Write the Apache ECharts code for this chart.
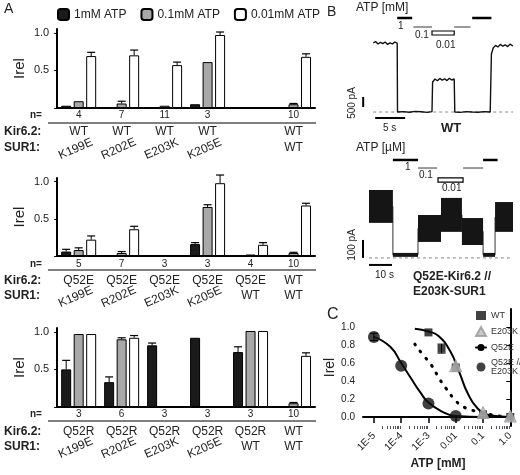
<!DOCTYPE html>
<html><head><meta charset="utf-8">
<script src="https://cdn.jsdelivr.net/npm/echarts@6/dist/echarts.min.js"></script>
<style>html,body{margin:0;padding:0;background:#fff}#c{width:520px;height:475px}</style>
</head><body><div id="c"></div>
<script>
// ---------- DATA ----------
const atpLevels = ['1mM ATP', '0.1mM ATP', '0.01mM ATP'];
const sur1A = ['K199E', 'R202E', 'E203K', 'K205E', '', 'WT'];
const sur1B = ['K199E', 'R202E', 'E203K', 'K205E', 'WT', 'WT'];
const kir1 = ['WT', 'WT', 'WT', 'WT', '', 'WT'];
const kir2 = ['Q52E', 'Q52E', 'Q52E', 'Q52E', 'Q52E', 'WT'];
const kir3 = ['Q52R', 'Q52R', 'Q52R', 'Q52R', 'Q52R', 'WT'];
const n1 = ['4', '7', '11', '3', '', '10'];
const n2 = ['5', '7', '3', '3', '4', '10'];
const n3 = ['3', '6', '3', '3', '3', '10'];
// values [1mM, 0.1mM, 0.01mM], errors
const a1Val = [[0.03, 0.01, 0.00, 0.05, null, 0.00], [0.09, 0.06, 0.03, 0.61, null, 0.05], [0.69, 0.70, 0.57, 0.97, null, 0.68]];
const a1Err = [[0, 0, 0, 0, 0, 0], [0, 0.03, 0, 0, 0, 0.01], [0.05, 0.07, 0.04, 0.04, 0, 0.04]];
const a2Val = [[0.06, 0.01, 0.00, 0.16, 0.01, 0.00], [0.08, 0.04, 0.00, 0.66, 0.02, 0.04], [0.22, 0.36, 0.01, 0.98, 0.15, 0.68]];
const a2Err = [[0.03, 0, 0, 0.02, 0, 0], [0.03, 0.02, 0, 0.03, 0, 0.01], [0.05, 0.04, 0, 0.11, 0.03, 0.03]];
const a3Val = [[0.50, 0.33, 0.82, 0.92, 0.73, 0.00], [0.97, 0.90, null, null, 1.01, 0.05], [0.97, 0.92, null, null, 1.01, 0.68]];
const a3Err = [[0.12, 0.07, 0.03, 0, 0.07, 0], [0, 0.02, 0, 0, 0, 0.01], [0, 0.03, 0, 0, 0, 0.04]];
// Panel B traces: [time s, current pA]
const traceWT = [[0,3450],[0.4,3520],[0.8,3400],[1.2,3480],[1.6,3420],[2,3500],[2.4,3380],[2.8,3460],[3.2,3410],[3.6,3490],[4,3440],[4.05,0],[5,20],[6,-10],[7,30],[8,10],[9,-20],[9.8,20],[9.9,1500],[10.3,1650],[10.7,1560],[11.1,1680],[11.5,1590],[11.9,1660],[12.3,1570],[12.7,1690],[13.1,1600],[13.5,1650],[13.6,0],[14.5,-20],[15.5,20],[16.5,0],[17.5,-10],[18.5,20],[19.5,0],[19.7,2900],[20,3200],[20.4,3330],[20.8,3250],[21.2,3380],[21.6,3290],[22,3360],[22.4,3270],[22.8,3390],[23.3,3300]];
// mutant trace noise band segments: [tStart, tEnd, low pA, high pA]
const traceMut = [[0,10.4,195,378],[10.4,21.3,6,28],[21.3,31.3,89,239],[31.3,40.4,145,334],[40.4,49.6,72,222],[49.6,54.8,6,28],[54.8,62.6,145,311]];
// ATP application bars: [tStart, tEnd, level]
const atpWT = [[4,6.5,'1'],[6.7,9.8,'0.1'],[9.8,13.5,'0.01'],[13.5,16.2,'0.1'],[16.5,19.7,'1']];
const atpMut = [[10.4,21.3,'1'],[21.3,29.6,'0.1'],[30,40.9,'0.01'],[40.9,49.6,'0.1'],[49.6,55.9,'1']];
// Panel C: log10(ATP mM), Irel, err
const cWT = [[-3,0.94,0],[-2.52,0.76,0.05],[-2,0.55,0],[-1,0.03,0],[0,0.0,0]];
const cE203K = [[-2,0.57],[-1,0.05],[0,0.01]];
const cMut = [[-5,0.89,0.04],[-4,0.57,0],[-3,0.15,0],[-2,0.01,0]];
const fitWT = [[-3.5,0.98],[-3,0.95],[-2.63,0.9],[-2.2,0.73],[-1.86,0.49],[-1.57,0.27],[-1.21,0.1],[-0.75,0.02],[0,0]];
const fitQ52E = [[-3.5,0.81],[-3.2,0.69],[-2.9,0.58],[-2.57,0.41],[-2.36,0.32],[-2.0,0.18],[-1.75,0.12],[-1.46,0.08],[-0.6,0.02],[-0.1,0.0]];
const fitMut = [[-5,0.89],[-4.4,0.78],[-4,0.6],[-3.64,0.43],[-3.29,0.27],[-3,0.16],[-2.5,0.06],[-2,0.01],[-1,0]];
const cTicks = [-5,-4,-3,-2,-1,0];
const cTickLabels = ['1E-5','1E-4','1E-3','0.01','0.1','1.0'];

// ---------- CHART ----------
const F = 'Liberation Sans, Arial, sans-serif';
const chart = echarts.init(document.getElementById('c'));
const colors = ['#1a1a1a', '#a8a8a8', '#ffffff'];
const gridsA = [{left:50,top:29,width:265,height:79},{left:50,top:178,width:265,height:78},{left:50,top:328,width:265,height:79}];
const vals = [a1Val, a2Val, a3Val], errs = [a1Err, a2Err, a3Err];
const offs = [-12.5, 0, 12.5];
const grids = [...gridsA,
  {left:360,top:15,width:153,height:105},
  {left:360,top:158,width:153,height:110},
  {left:363,top:309,width:150,height:117}];
const xAxis = [], yAxis = [], series = [];
for (let g = 0; g < 3; g++) {
  xAxis.push({type:'category', gridIndex:g, data:sur1B, axisLine:{lineStyle:{color:'#000',width:2}}, axisTick:{show:false}, axisLabel:{show:false}});
  yAxis.push({type:'value', gridIndex:g, min:0, max:1.05, interval:0.5, splitLine:{show:false},
    axisLine:{show:true, lineStyle:{color:'#000',width:2}}, axisTick:{show:true,length:3},
    axisLabel:{fontFamily:F,fontSize:11,color:'#222',formatter:v=>v===0?'':v.toFixed(1)},
    name:'Irel', nameLocation:'middle', nameGap:30, nameTextStyle:{fontFamily:F,fontSize:15,color:'#222'}});
  for (let k = 0; k < 3; k++) {
    series.push({type:'bar', name:atpLevels[k], xAxisIndex:g, yAxisIndex:g, data:vals[g][k],
      barWidth:10, barGap:'25%', itemStyle:{color:colors[k], borderColor:'#000', borderWidth:1}});
    const ed = vals[g][k].map((v,i)=> v==null||errs[g][k][i]===0 ? null : [i, v, errs[g][k][i]]).filter(d=>d);
    const off = offs[k];
    series.push({type:'custom', xAxisIndex:g, yAxisIndex:g, data:ed, z:5, silent:true,
      renderItem:(p,api)=>{const c=api.value(0),v=api.value(1),e=api.value(2);
        const a=api.coord([c,v+e]), b=api.coord([c,v]); const x=a[0]+off;
        return {type:'group',children:[
          {type:'line',shape:{x1:x,y1:a[1],x2:x,y2:b[1]},style:{stroke:'#000',lineWidth:1}},
          {type:'line',shape:{x1:x-4,y1:a[1],x2:x+4,y2:a[1]},style:{stroke:'#000',lineWidth:1.2}}]};}});
  }
}
// Panel B axes
xAxis.push({type:'value',gridIndex:3,min:-2.2,max:23.3,show:false});
yAxis.push({type:'value',gridIndex:3,min:-400,max:4850,show:false});
xAxis.push({type:'value',gridIndex:4,min:-3.9,max:62.6,show:false});
yAxis.push({type:'value',gridIndex:4,min:-56,max:556,show:false});
// Panel C axes
xAxis.push({type:'value',gridIndex:5,min:-5.4,max:0.1,splitLine:{show:false},
  axisLine:{lineStyle:{color:'#000',width:2}}, axisTick:{customValues:cTicks,length:6,lineStyle:{width:1.5}},
  axisLabel:{customValues:cTicks,rotate:45,fontFamily:F,fontSize:10,color:'#222',formatter:v=>cTickLabels[cTicks.indexOf(Math.round(v))]},
  name:'ATP [mM]',nameLocation:'middle',nameGap:32,nameTextStyle:{fontFamily:F,fontSize:12,fontWeight:'bold',color:'#222'}});
const minor=[]; for (let d=-5; d<0; d++) for (let m=2; m<10; m++) minor.push(d+Math.log10(m));
xAxis.push({type:'value',gridIndex:5,min:-5.4,max:0.1,position:'bottom',axisLine:{show:false},
  axisTick:{customValues:minor,length:3},axisLabel:{show:false},splitLine:{show:false}});
yAxis.push({type:'value',gridIndex:5,min:-0.1,max:1.2,splitLine:{show:false},
  axisLine:{show:true,lineStyle:{color:'#000',width:2}}, axisTick:{customValues:[0,0.2,0.4,0.6,0.8,1.0],length:4},
  axisLabel:{customValues:[0,0.2,0.4,0.6,0.8,1.0],fontFamily:F,fontSize:10,color:'#222',formatter:v=>v.toFixed(1)},
  name:'Irel',nameLocation:'middle',nameGap:26,nameTextStyle:{fontFamily:F,fontSize:14,color:'#222'}});

// B1 trace
series.push({type:'line',xAxisIndex:3,yAxisIndex:3,data:traceWT,symbol:'none',lineStyle:{color:'#111',width:1.4},silent:true,z:3});
series.push({type:'line',xAxisIndex:3,yAxisIndex:3,data:[[0,0],[23.3,0]],symbol:'none',lineStyle:{color:'#888',width:1,type:[3,3]},silent:true,z:2});
series.push({type:'line',xAxisIndex:3,yAxisIndex:3,data:[[0.33,-300],[5.33,-300]],symbol:'none',lineStyle:{color:'#000',width:2},silent:true});
series.push({type:'line',xAxisIndex:3,yAxisIndex:3,data:[[-1.67,750],[-1.67,250]],symbol:'none',lineStyle:{color:'#000',width:2},silent:true});
// B2 trace: noise band + connecting transitions
function bandItem(p,api){const s=api.value(0),e=api.value(1),lo=api.value(2),hi=api.value(3);
  const a=api.coord([s,hi]),b=api.coord([e,lo]);
  return {type:'rect',shape:{x:a[0],y:a[1],width:b[0]-a[0],height:b[1]-a[1]},style:{fill:'#151515'}};}
series.push({type:'custom',xAxisIndex:4,yAxisIndex:4,data:traceMut,renderItem:bandItem,silent:true,z:3});
const mutEdges=[]; traceMut.forEach(s=>{mutEdges.push([s[0],(s[2]+s[3])/2]);mutEdges.push([s[1],(s[2]+s[3])/2]);});
series.push({type:'line',xAxisIndex:4,yAxisIndex:4,data:mutEdges,symbol:'none',lineStyle:{color:'#333',width:1},silent:true,z:2});
series.push({type:'line',xAxisIndex:4,yAxisIndex:4,data:[[0,0],[62.6,0]],symbol:'none',lineStyle:{color:'#888',width:1,type:[3,3]},silent:true,z:2});
series.push({type:'line',xAxisIndex:4,yAxisIndex:4,data:[[0,-39],[10,-39]],symbol:'none',lineStyle:{color:'#000',width:2},silent:true});
series.push({type:'line',xAxisIndex:4,yAxisIndex:4,data:[[-2.6,100],[-2.6,0]],symbol:'none',lineStyle:{color:'#000',width:2},silent:true});
// ATP application bars
function atpSeries(xi, data, y1, y01, boxHi, boxLo){
  return {type:'custom',xAxisIndex:xi,yAxisIndex:xi,data:data.map(d=>[d[0],d[1],d[2]==='1'?0:d[2]==='0.1'?1:2]),silent:true,
    renderItem:(p,api)=>{const s=api.value(0),e=api.value(1),l=api.value(2);
      if(l===2){const a=api.coord([s,boxHi]),b=api.coord([e,boxLo]);
        return {type:'rect',shape:{x:a[0],y:a[1],width:b[0]-a[0],height:b[1]-a[1]},style:{fill:'#fff',stroke:'#000',lineWidth:1.2}};}
      const yv=l===0?y1:y01; const a=api.coord([s,yv]),b=api.coord([e,yv]);
      return {type:'line',shape:{x1:a[0],y1:a[1],x2:b[0],y2:b[1]},style:{stroke:l===0?'#000':'#999',lineWidth:l===0?2.5:2}};}};
}
series.push(atpSeries(3, atpWT, 4700, 4250, 4050, 3850));
series.push(atpSeries(4, atpMut, 545, 500, 445, 422));
// Panel C
const cs = {xAxisIndex:5,yAxisIndex:5};
series.push({...cs,type:'line',data:fitWT,smooth:true,symbol:'none',lineStyle:{color:'#000',width:2},silent:true});
series.push({...cs,type:'line',data:fitMut,smooth:true,symbol:'none',lineStyle:{color:'#000',width:2},silent:true});
series.push({...cs,type:'line',name:'Q52E',data:fitQ52E,smooth:true,symbol:'none',lineStyle:{color:'#000',width:3,type:[1,8],cap:'round'},itemStyle:{color:'#000'},silent:true});
series.push({...cs,type:'scatter',name:'WT',data:cWT.map(d=>[d[0],d[1]]),symbol:'rect',symbolSize:8,itemStyle:{color:'#111'},z:4});
series.push({...cs,type:'scatter',name:'E203K',data:cE203K,symbol:'triangle',symbolSize:12,itemStyle:{color:'#bbb',borderColor:'#999',borderWidth:1},z:5});
series.push({...cs,type:'scatter',name:'Q52E //\nE203K',data:cMut.map(d=>[d[0],d[1]]),symbol:'circle',symbolSize:12,itemStyle:{color:'#111'},z:4});
series.push({...cs,type:'custom',data:[...cWT,...cMut].filter(d=>d[2]>0),silent:true,z:6,
  renderItem:(p,api)=>{const x=api.value(0),v=api.value(1),e=api.value(2);const a=api.coord([x,v+e]),b=api.coord([x,v-e]);
    return {type:'group',children:[{type:'line',shape:{x1:a[0],y1:a[1],x2:b[0],y2:b[1]},style:{stroke:'#000',lineWidth:1}},
      {type:'line',shape:{x1:a[0]-4,y1:a[1],x2:a[0]+4,y2:a[1]},style:{stroke:'#000',lineWidth:1}},
      {type:'line',shape:{x1:b[0]-4,y1:b[1],x2:b[0]+4,y2:b[1]},style:{stroke:'#000',lineWidth:1}}]};}});

chart.setOption({
  animation:false,
  grid:grids,
  xAxis, yAxis, series,
  legend:[
    {data:atpLevels.map(n=>({name:n})),left:52,top:3,itemWidth:11,itemHeight:11,itemGap:14,textStyle:{fontFamily:F,fontSize:12,color:'#222'},selectedMode:false},
    {data:['WT','E203K','Q52E','Q52E //\nE203K'],orient:'vertical',left:470,top:306,itemWidth:10,itemHeight:9,itemGap:6,textStyle:{fontFamily:F,fontSize:9,color:'#333'},selectedMode:false}
  ]
});

// ---------- text annotations ----------
const g = [];
function T(x,y,text,o={}){g.push({type:'text',x,y,rotation:o.rot||0,style:{text,fontFamily:F,fontSize:o.size||12,fontWeight:o.bold?'bold':'normal',fill:'#222',align:o.align||'left',verticalAlign:'middle'}});}
const rowsY=[[115,123,132,148],[264,270,281,296],[414,421,432,447]];
const kirs=[kir1,kir2,kir3], ns=[n1,n2,n3], surs=[sur1A,sur1B,sur1B];
for (let k=0;k<3;k++){
  const [yn,yl,yk,ys]=rowsY[k];
  T(30,yn,'n=',{size:10,bold:true});
  g.push({type:'line',shape:{x1:48,y1:yl,x2:316,y2:yl},style:{stroke:'#000',lineWidth:1}});
  T(4,yk,'Kir6.2:',{size:12,bold:true});
  T(4,ys,'SUR1:',{size:12,bold:true});
  for (let i=0;i<6;i++){
    const x=chart.convertToPixel({xAxisIndex:k},i);
    T(x,yn,ns[k][i],{size:10,align:'center'});
    T(x,yk,kirs[k][i],{size:12,align:'center'});
    const s=surs[k][i];
    if (s==='WT'||s==='') T(x,ys,s,{size:12,align:'center'});
    else T(x-3,ys+1,s,{size:12,align:'center',rot:0.42});
  }
}
T(4,9,'A',{size:14}); T(327,12,'B',{size:14}); T(327,315,'C',{size:16});
T(356,8,'ATP [mM]',{size:12}); T(356,148,'ATP [µM]',{size:12});
T(398,26,'1',{size:10}); T(415,35,'0.1',{size:10}); T(436,45,'0.01',{size:10});
T(405,167,'1',{size:10}); T(419,175,'0.1',{size:10}); T(442,188,'0.01',{size:10});
T(383,128,'5 s',{size:10}); T(441,128,'WT',{size:13,bold:true});
T(375,275,'10 s',{size:10});
T(413,277,'Q52E-Kir6.2 //',{size:12,bold:true}); T(413,292,'E203K-SUR1',{size:12,bold:true});
T(352,103,'500 pA',{size:10,rot:Math.PI/2,align:'center'});
T(352,245,'100 pA',{size:10,rot:Math.PI/2,align:'center'});
chart.setOption({graphic:g});
</script></body></html>
